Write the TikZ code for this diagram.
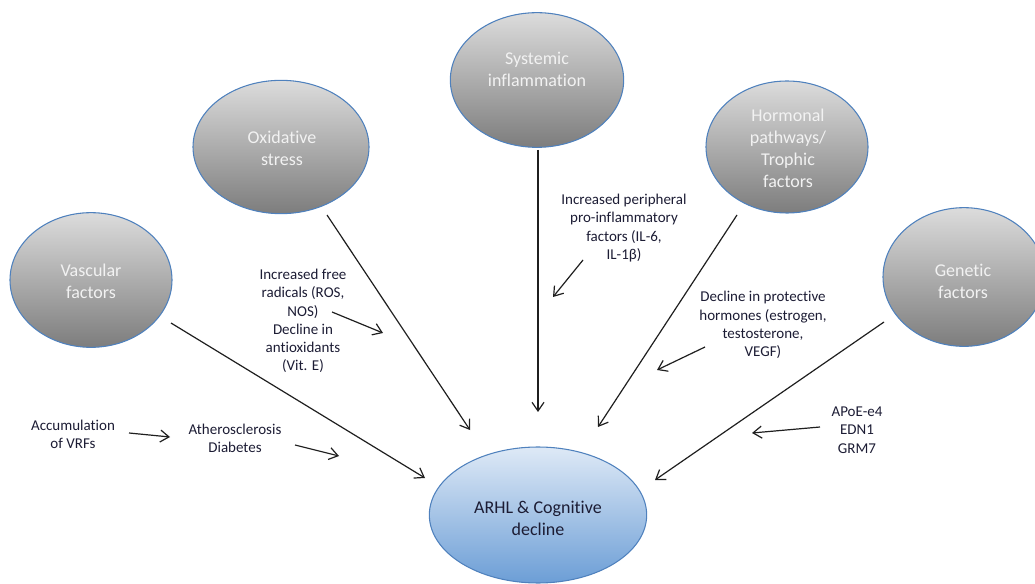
\documentclass[tikz,border=0pt]{standalone}
\usepackage{fontspec}
\setmainfont{Carlito}[RawFeature={-liga;-clig;-dlig;-calt}]
\usetikzlibrary{shapes.geometric,arrows.meta}
\definecolor{ellborder}{RGB}{79,129,189}
\definecolor{greytop}{RGB}{220,220,220}
\definecolor{greybot}{RGB}{125,125,125}
\definecolor{bluetop}{RGB}{222,233,246}
\definecolor{bluebot}{RGB}{108,158,214}
\definecolor{notecol}{RGB}{28,28,52}
\definecolor{labelwhite}{RGB}{242,242,242}
\begin{document}
\begin{tikzpicture}[x=0.75pt,y=-0.75pt,
  factor/.style={ellipse, draw=ellborder, line width=0.8pt, top color=greytop, bottom color=greybot, inner sep=0pt},
  outcome/.style={ellipse, draw=ellborder, line width=0.8pt, top color=bluetop, bottom color=bluebot, inner sep=0pt},
  factorlabel/.style={align=center, text=labelwhite, inner sep=0pt, font=\fontsize{13.5}{16.5}\selectfont},
  outcomelabel/.style={align=center, text=notecol, inner sep=0pt, font=\fontsize{13.5}{16.5}\selectfont},
  note/.style={align=center, text=notecol, inner sep=0pt, font=\fontsize{11.25}{13.7}\selectfont},
  link/.style={draw=black!88, line width=0.9pt, -{Straight Barb[length=6.5pt,width=9pt,line width=0.9pt]}}
]
\useasboundingbox (0,0) rectangle (1035,584);
\clip (0,0) rectangle (1035,584);

% factor ellipses
\node[factor, minimum width=121.5pt, minimum height=101pt] (vasc) at (91,280) {};
\node[factor, minimum width=132pt, minimum height=100pt] (oxid) at (281,147) {};
\node[factor, minimum width=130pt, minimum height=101pt] (syst) at (537,80) {};
\node[factor, minimum width=121.5pt, minimum height=99pt] (horm) at (787,147) {};
\node[factor, minimum width=121.5pt, minimum height=104pt] (gene) at (964,277) {};
\node[outcome, minimum width=163pt, minimum height=102pt] (arhl) at (538,515) {};

% labels inside the ellipses
\node[factorlabel] (vasc-t) at (91,281) {Vascular\\factors};
\node[factorlabel] (oxid-t) at (282,148) {Oxidative\\stress};
\node[factorlabel] (syst-t) at (537,69) {Systemic\\inflammation};
\node[factorlabel] (horm-t) at (788,148) {Hormonal\\pathways/\\Trophic\\factors};
\node[factorlabel] (gene-t) at (963,281) {Genetic\\factors};
\node[outcomelabel] (arhl-t) at (538,518) {ARHL \& Cognitive\\decline};

% annotations
\node[note] (ros) at (303,321) {Increased free\\radicals (ROS,\\NOS)\\Decline in\\antioxidants\\(Vit. E)};
\node[note] (il) at (624,228) {Increased peripheral\\pro-inflammatory\\factors (IL-6,\\IL-1β)};
\node[note] (hormdec) at (763,325) {Decline in protective\\hormones (estrogen,\\testosterone,\\VEGF)};
\node[note] (genes) at (857,430) {APoE-e4\\EDN1\\GRM7};
\node[note] (vrf) at (73,434) {Accumulation\\of VRFs};
\node[note] (athero) at (235,438) {Atherosclerosis\\Diabetes};

% connector end points
\coordinate (vasc-s) at (171,323);  \coordinate (vasc-e) at (425,478);
\coordinate (oxid-s) at (327,215);  \coordinate (oxid-e) at (470,430);
\coordinate (syst-s) at (538,150);  \coordinate (syst-e) at (538,412);
\coordinate (horm-s) at (737,215);  \coordinate (horm-e) at (598,427);
\coordinate (gene-s) at (884,322);  \coordinate (gene-e) at (655,480);
\coordinate (ros-s) at (332,312);   \coordinate (ros-e) at (383,333);
\coordinate (il-s) at (583,260);    \coordinate (il-e) at (553,297);
\coordinate (hd-s) at (705,347);    \coordinate (hd-e) at (657,370);
\coordinate (gn-s) at (820,427);    \coordinate (gn-e) at (752,433);
\coordinate (vrf-s) at (129,433);   \coordinate (vrf-e) at (170,437);
\coordinate (ath-s) at (295,445);   \coordinate (ath-e) at (339,456);

% main connectors
\draw[link] (vasc-s) -- (vasc-e);
\draw[link] (oxid-s) -- (oxid-e);
\draw[link] (syst-s) -- (syst-e);
\draw[link] (horm-s) -- (horm-e);
\draw[link] (gene-s) -- (gene-e);

% short pointers
\draw[link] (ros-s) -- (ros-e);
\draw[link] (il-s) -- (il-e);
\draw[link] (hd-s) -- (hd-e);
\draw[link] (gn-s) -- (gn-e);
\draw[link] (vrf-s) -- (vrf-e);
\draw[link] (ath-s) -- (ath-e);
\end{tikzpicture}
\end{document}
